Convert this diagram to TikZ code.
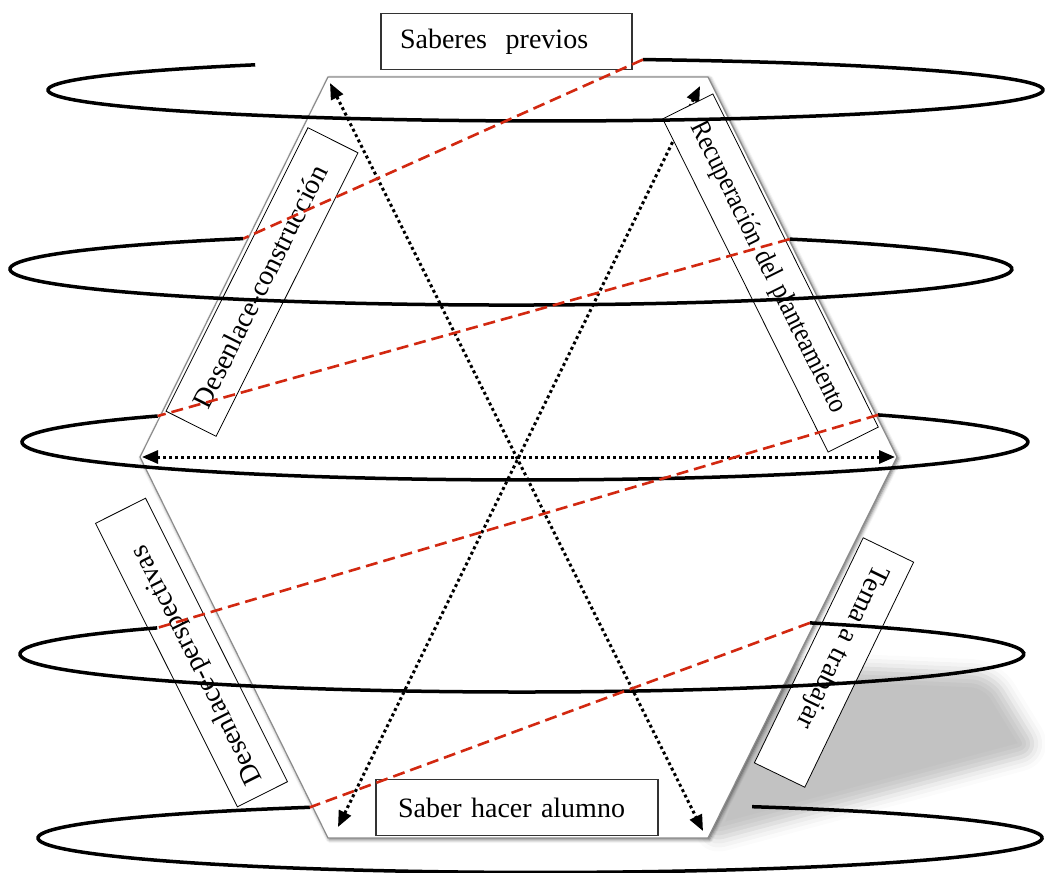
\documentclass[tikz,border=0pt]{standalone}
\usepackage{fontspec}
\usepackage{graphicx}
\setmainfont{Liberation Serif}
\usetikzlibrary{arrows.meta,shadows.blur}
\definecolor{dashred}{RGB}{210,40,16}
\definecolor{hexgray}{RGB}{140,140,140}
\tikzset{
  ring/.style={draw=black, line width=3.5pt},
  redlink/.style={draw=dashred, line width=2.6pt, dash pattern=on 12pt off 6pt},
  dotarrow/.style={draw=black, line width=3pt, dash pattern=on 3pt off 3pt,
     {Triangle[length=16pt,width=13pt]}-{Triangle[length=16pt,width=13pt]}},
  hexshape/.style={draw=hexgray, line width=1.2pt, fill=white,
     blur shadow={shadow xshift=1.5pt, shadow yshift=-1.5pt, shadow blur radius=3.5pt, shadow opacity=60}},
  lbl/.style={draw=black, line width=0.8pt, fill=white, minimum height=56pt,
     inner ysep=0pt, align=left, font=\fontsize{28}{32}\selectfont},
  flatlbl/.style={lbl, draw=black!80, line width=1.2pt}
}
\begin{document}
\begin{tikzpicture}[x=1pt,y=-1pt]
\useasboundingbox (0,0) rectangle (1045,873);

% large soft shadow at lower right
\path[blur shadow={shadow xshift=0pt, shadow yshift=0pt, shadow blur radius=14pt, shadow opacity=24}, rounded corners=20pt]
  (760,664) -- (992,674) -- (1040,752) -- (704,842) -- cycle;

% hexagon
\coordinate (h1) at (328,77);
\coordinate (h2) at (708,77);
\coordinate (h3) at (897,457);
\coordinate (h4) at (708,838);
\coordinate (h5) at (328,838);
\coordinate (h6) at (140,457);
\draw[hexshape] (h1) -- (h2) -- (h3) -- (h4) -- (h5) -- (h6) -- cycle;

% dotted double arrows
\coordinate (dh1) at (142,457);
\coordinate (dh2) at (895,457);
\coordinate (da1) at (330,83);
\coordinate (da2) at (703,831);
\coordinate (db1) at (338,827);
\coordinate (db2) at (700,86);
\draw[dotarrow] (dh1) -- (dh2);
\draw[dotarrow] (da1) -- (da2);
\draw[dotarrow] (db1) -- (db2);

% labels
\node[flatlbl, text width=213pt, inner xsep=19pt] (saberes) at (506.5,41.5) {Saberes\ \ previos};
\node[flatlbl, text width=238pt, inner xsep=22pt] (saberhacer) at (517,807.5) {Saber hacer alumno};
\node[lbl, rotate=63.4, text width=277pt, inner xsep=20pt] (construccion) at (262,282) {Desenlace-construcción};
\node[lbl, rotate=-63.6, text width=334pt, inner xsep=19pt] (recuperacion) at (770.5,273) {\scalebox{0.88}[1]{Recuperación del planteamiento}};
\node[lbl, rotate=116.6, text width=290pt, inner xsep=13.5pt] (perspectivas) at (191.5,652.5) {Desenlace-perspectivas};
\node[lbl, rotate=244.2, text width=214pt, inner xsep=18pt] (tema) at (834,662.5) {Tema a trabajar};

% spiral rings
\coordinate (S1) at (255.2,64.8);
\coordinate (S2) at (243.3,238.6);
\coordinate (S3) at (157.7,416.0);
\coordinate (S4) at (157.2,627.9);
\coordinate (S5) at (309.8,807.3);
\draw[ring] (S1) arc[start angle=125.7, end angle=438.7, x radius=497.5pt, y radius=31pt] coordinate (E1);
\draw[ring] (S2) arc[start angle=122.3, end angle=416.2, x radius=501pt, y radius=36pt] coordinate (E2);
\draw[ring] (S3) arc[start angle=136.9, end angle=405.4, x radius=503pt, y radius=38pt] coordinate (E3);
\draw[ring] (S4) arc[start angle=136.6, end angle=415.0, x radius=502pt, y radius=38pt] coordinate (E4);
\draw[ring] (S5) arc[start angle=117.3, end angle=425.0, x radius=502pt, y radius=34.5pt] coordinate (E5);

% red dashed links between rings
\draw[redlink] (E1) -- (S2);
\draw[redlink] (E2) -- (S3);
\draw[redlink] (E3) -- (S4);
\draw[redlink] (E4) -- (S5);
\end{tikzpicture}
\end{document}
